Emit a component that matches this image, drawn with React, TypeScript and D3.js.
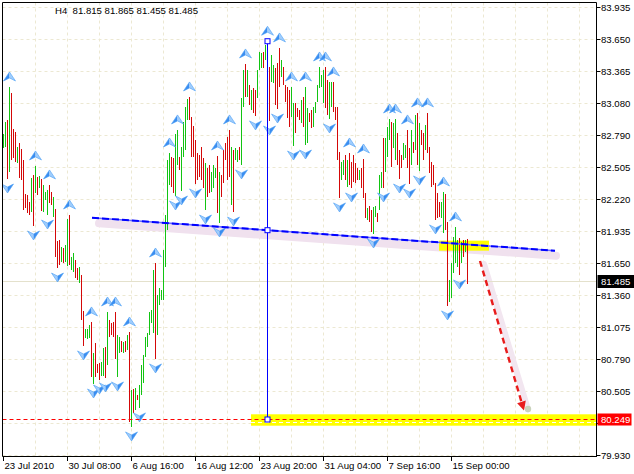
import React from "react";
import * as d3 from "d3";

// USDJPY-style H4 price bars: high / low per bar, colour = bull (G) or bear (R)
const highs = [
  82.801, 82.908, 82.926, 83.221, 83.167, 82.846, 82.819, 82.685, 82.72, 82.667,
  82.568, 82.264, 82.255, 82.193, 82.407, 82.434, 82.515, 82.416, 82.425, 82.398,
  82.345, 82.282, 82.3, 82.345, 82.282, 82.238, 82.13, 81.844, 81.853, 81.79,
  81.782, 81.808, 82.041, 82.076, 81.701, 81.737, 81.674, 81.602, 81.611, 81.54,
  81.218, 81.057, 81.057, 81.093, 81.12, 80.843, 80.932, 80.744, 80.753, 80.762,
  80.887, 80.896, 81.209, 81.138, 81.111, 81.12, 81.209, 81.003, 80.985, 80.95,
  80.941, 80.95, 81.003, 81.03, 80.512, 80.521, 80.53, 80.467, 80.556, 80.735,
  80.825, 80.985, 81.021, 81.209, 81.227, 81.585, 81.647, 81.361, 81.424, 81.406,
  81.764, 82.076, 82.568, 82.631, 82.595, 82.586, 82.801, 82.837, 82.595, 82.685,
  82.908, 83.042, 83.114, 83.132, 82.953, 82.872, 82.747, 82.631, 82.613, 82.685,
  82.586, 82.541, 82.497, 82.524, 82.461, 82.524, 82.497, 82.604, 82.461, 82.434,
  82.658, 82.72, 82.774, 82.837, 82.685, 82.658, 82.676, 82.658, 82.685, 83.123,
  83.373, 83.427, 83.373, 83.239, 83.194, 83.212, 83.194, 83.373, 83.534, 83.525,
  83.534, 83.597, 83.63, 83.4, 83.507, 83.418, 83.391, 83.436, 83.57, 83.462,
  83.4, 83.239, 83.221, 83.194, 83.221, 83.078, 83.078, 83.033, 83.015, 83.105,
  83.132, 83.221, 83.033, 82.989, 83.015, 83.042, 83.087, 83.239, 83.4, 83.328,
  83.373, 83.4, 83.284, 83.266, 83.266, 83.266, 83.042, 83.042, 82.64, 82.55,
  82.568, 82.613, 82.568, 82.631, 82.55, 82.613, 82.541, 82.497, 82.479, 82.497,
  82.577, 82.273, 82.139, 82.157, 82.121, 82.148, 82.157, 82.094, 82.434, 82.461,
  82.765, 82.765, 82.863, 82.935, 82.908, 82.899, 82.935, 82.81, 82.658, 82.613,
  82.72, 82.702, 82.837, 82.676, 82.837, 82.729, 82.971, 82.989, 82.899, 82.837,
  82.81, 82.881, 82.989, 82.685, 82.55, 82.524, 82.363, 82.273, 82.193, 82.193,
  82.282, 82.264, 82.014, 81.495, 81.647, 81.88, 81.969, 81.853, 81.871, 81.835,
  81.853, 81.853, 81.865,
];

const lows = [
  82.676, 82.685, 82.398, 82.461, 82.568, 82.586, 82.55, 82.541, 82.407, 82.389,
  82.121, 82.139, 82.094, 82.076, 82.103, 81.978, 82.273, 82.255, 82.318, 82.112,
  82.103, 82.211, 82.076, 82.184, 82.166, 82.059, 81.701, 81.602, 81.629, 81.656,
  81.647, 81.656, 81.62, 81.629, 81.585, 81.567, 81.513, 81.495, 81.468, 81.138,
  80.905, 80.977, 80.968, 80.977, 80.628, 80.565, 80.628, 80.664, 80.601, 80.637,
  80.637, 80.619, 80.735, 80.985, 81.003, 80.985, 80.789, 80.628, 80.843, 80.852,
  80.843, 80.852, 80.869, 80.225, 80.181, 80.306, 80.333, 80.422, 80.351, 80.467,
  80.574, 80.807, 80.896, 81.003, 81.111, 81.021, 80.789, 81.003, 81.272, 81.316,
  81.316, 81.611, 81.942, 82.345, 82.327, 82.273, 82.246, 82.524, 82.479, 82.291,
  82.595, 82.658, 82.926, 82.926, 82.595, 82.595, 82.354, 82.389, 82.416, 82.389,
  82.318, 82.121, 82.238, 82.273, 82.282, 82.318, 82.407, 82.094, 82.005, 82.238,
  82.363, 82.568, 82.389, 82.416, 82.166, 82.103, 82.568, 82.55, 82.568, 82.524,
  83.042, 83.132, 83.132, 83.06, 83.015, 82.989, 82.962, 83.123, 83.373, 83.391,
  83.391, 83.462, 83.015, 82.917, 83.266, 83.257, 83.06, 83.024, 83.221, 83.31,
  83.239, 83.087, 82.944, 82.863, 82.953, 82.693, 82.81, 82.953, 82.926, 82.899,
  82.863, 82.702, 82.72, 82.908, 82.854, 82.863, 82.989, 83.087, 83.212, 83.221,
  83.078, 83.033, 82.971, 82.935, 83.042, 82.997, 82.926, 82.568, 82.229, 82.389,
  82.434, 82.389, 82.327, 82.345, 82.318, 82.372, 82.363, 82.389, 82.389, 82.318,
  82.229, 82.05, 82.032, 82.014, 81.924, 81.906, 82.059, 82.014, 82.121, 82.318,
  82.318, 82.461, 82.595, 82.747, 82.506, 82.676, 82.568, 82.524, 82.398, 82.497,
  82.568, 82.586, 82.497, 82.354, 82.524, 82.631, 82.658, 82.524, 82.47, 82.702,
  82.568, 82.658, 82.631, 82.452, 82.327, 82.345, 82.032, 82.05, 82.059, 82.05,
  81.915, 81.942, 81.263, 81.298, 81.334, 81.558, 81.647, 81.611, 81.54, 81.647,
  81.701, 81.746, 81.455,
];

const barColors =
  "GGRGRRRGRR" + "RRRRGRGRGR" + "GGGRRGRRRG" + "RGGRGGRRGR" + "RGGGRGRRRG" +
  "GRGRRRRGGR" + "GRGRGRGRGG" + "GGGGGGRGGG" + "GGGGRRGGRG" + "GGGRRRRRRR" +
  "RGRRGGGRGR" + "RRRRGRGGRG" + "GRGRGRRGGG" + "RGRRGGRRRG" + "RRRRGGRRRG" +
  "RGGRRGGGGG" + "GRRGGRRRRG" + "GRGRRRRRGR" + "RRGRRGGRGG" + "RGGGRGGRRR" +
  "GGRRGRGRGR" + "RGRRRRRRRG" + "GRRGGGGGRG" + "RGR";

const lastOpen = 81.815;
const lastClose = 81.485;
const timeframe = "H4";

// Bill Williams fractals (bar indices)
const upFractals = [3, 16, 23, 33, 44, 52, 56, 63, 76, 83, 87, 93, 107, 113, 121, 132, 138, 144, 151, 158, 161, 165, 173, 180, 193, 196, 202, 207, 212, 220, 226];
const downFractals = [2, 15, 22, 27, 40, 45, 48, 51, 57, 64, 68, 76, 86, 89, 96, 101, 108, 115, 119, 126, 133, 137, 145, 151, 163, 168, 174, 185, 190, 198, 203, 208, 216, 222, 228];

// axes
const priceTicks = [83.935, 83.65, 83.365, 83.08, 82.79, 82.505, 82.22, 81.935, 81.65, 81.36, 81.075, 80.79, 80.505, 80.22, 79.93];
const timeTickBars = [0, 32, 64, 96, 128, 160, 192, 224];
const timeLabels = ["23 Jul 2010", "30 Jul 08:00", "6 Aug 16:00", "16 Aug 12:00", "23 Aug 20:00", "31 Aug 04:00", "7 Sep 16:00", "15 Sep 00:00"];

// drawn objects
const neckline = [{ bar: 44.5, price: 82.052 }, { bar: 276, price: 81.757 }];
const headBar = 132;
const targetPrice = 80.249;
const forecast = [{ bar: 238.5, price: 81.665 }, { bar: 260.5, price: 80.328 }];
const breakZone = { bar0: 218, bar1: 243, top: 81.847, bottom: 81.757 };
const targetZone = { bar0: 124, top: 80.294, bottom: 80.192 };

const W = 634;
const H = 474;
const L = 2.5;
const R = 596.5;
const T = 2.5;
const B = 456.5;
const FONT = "'Liberation Sans', Arial, sans-serif";

const fmt = d3.format(".3f");

function UpArrow({ x, y }: { x: number; y: number }) {
  return (
    <g transform={`translate(${x},${y})`}>
      <path d="M0,-5 L-6,4 L0,1 Z" fill="#3a8df0" />
      <path d="M0,-5 L6,4 L0,1 Z" fill="#9fcdfd" />
      <path d="M0,-5 L6,4 L0,1 L-6,4 Z" fill="none" stroke="#4c9ff5" strokeWidth={0.6} />
    </g>
  );
}

function DownArrow({ x, y }: { x: number; y: number }) {
  return (
    <g transform={`translate(${x},${y})`}>
      <path d="M0,5 L-6,-4 L0,-1 Z" fill="#9fcdfd" />
      <path d="M0,5 L6,-4 L0,-1 Z" fill="#3a8df0" />
      <path d="M0,5 L6,-4 L0,-1 L-6,-4 Z" fill="none" stroke="#4c9ff5" strokeWidth={0.6} />
    </g>
  );
}

export default function App() {
  const x = d3.scaleLinear().domain([0, 296.75]).range([3, R]);
  const y = d3.scaleLinear().domain([79.93, 83.935]).range([455, 7.13]);

  const gridBars = d3.range(16, 296, 16);
  const green = "#12c412";
  const red = "#d40808";

  const n0 = { x: x(neckline[0].bar), y: y(neckline[0].price) };
  const n1 = { x: x(neckline[1].bar), y: y(neckline[1].price) };
  const nSlope = (n1.y - n0.y) / (n1.x - n0.x);
  const hx = x(headBar) + 0.5;
  const headMid = n0.y + (hx - n0.x) * nSlope;

  const f0 = { x: x(forecast[0].bar), y: y(forecast[0].price) };
  const f1 = { x: x(forecast[1].bar), y: y(forecast[1].price) };
  const fAng = Math.atan2(f1.y - f0.y, f1.x - f0.x);
  const head = 9;
  const headW = 4.5;
  const bx = f1.x - head * Math.cos(fAng);
  const by = f1.y - head * Math.sin(fAng);
  const arrowHead = `M${f1.x},${f1.y} L${bx - headW * Math.sin(fAng)},${by + headW * Math.cos(fAng)} L${bx + headW * Math.sin(fAng)},${by - headW * Math.cos(fAng)} Z`;

  const header = `${timeframe}  ${fmt(lastOpen)} ${fmt(highs[highs.length - 1])} ${fmt(lows[lows.length - 1])} ${fmt(lastClose)}`;

  // the target label covers the axis tick that sits right under it
  const tyTarget = y(targetPrice);
  const axisLabels = priceTicks.filter((p) => Math.abs(y(p) - tyTarget) > 8);

  return (
    <svg width={W} height={H} style={{ position: "absolute", left: 0, top: 0, background: "#fff" }} fontFamily={FONT}>
      <defs>
        <clipPath id="plot">
          <rect x={L} y={T} width={R - L} height={B - T} />
        </clipPath>
      </defs>
      <rect width={W} height={H} fill="#fff" />

      <g clipPath="url(#plot)">
        {/* grid */}
        {priceTicks.map((p) => (
          <line key={"hg" + p} x1={L} x2={R} y1={Math.round(y(p)) + 0.5} y2={Math.round(y(p)) + 0.5} stroke="#ece8d2" strokeDasharray="3,3" />
        ))}
        {gridBars.map((b) => (
          <line key={"vg" + b} x1={x(b) + 0.5} x2={x(b) + 0.5} y1={T} y2={B} stroke="#ece8d2" strokeDasharray="3,3" />
        ))}

        {/* highlight shadows */}
        <line x1={n0.x + 7} y1={n0.y + 5 + 7 * nSlope} x2={n1.x + 1} y2={n1.y + 5 + nSlope} stroke="#f0e1ee" strokeWidth={8} strokeLinecap="round" />
        <line x1={f0.x + 4} y1={f0.y + 3} x2={f1.x + 4} y2={f1.y - 1} stroke="#f2e6f0" strokeWidth={6} strokeLinecap="round" />
        <circle cx={f1.x + 4} cy={f1.y - 1.5} r={3.2} fill="#c9d3bb" />

        {/* zones */}
        <rect x={x(breakZone.bar0)} y={y(breakZone.top)} width={x(breakZone.bar1) - x(breakZone.bar0)} height={y(breakZone.bottom) - y(breakZone.top)} fill="#ffff00" />
        <rect x={x(targetZone.bar0)} y={y(targetZone.top)} width={R - x(targetZone.bar0)} height={y(targetZone.bottom) - y(targetZone.top)} fill="#ffff00" />

        {/* bid line */}
        <line x1={L} x2={R} y1={Math.round(y(lastClose)) + 0.5} y2={Math.round(y(lastClose)) + 0.5} stroke="#e4e1cc" />

        {/* bars */}
        {highs.map((h, i) => {
          const top = Math.round(y(h));
          const bot = Math.round(y(lows[i]));
          return <rect key={"b" + i} x={x(i)} y={top} width={1} height={Math.max(1, bot - top)} fill={barColors[i] === "G" ? green : red} />;
        })}

        {/* fractals */}
        {upFractals.map((i) => (
          <UpArrow key={"u" + i} x={x(i) + 0.5} y={y(highs[i]) - 10} />
        ))}
        {downFractals.map((i) => (
          <DownArrow key={"d" + i} x={x(i) + 0.5} y={y(lows[i]) + 9} />
        ))}

        {/* target level */}
        <line x1={L} x2={R} y1={Math.round(tyTarget) + 0.5} y2={Math.round(tyTarget) + 0.5} stroke="#ff0000" strokeDasharray="4,3" />
        <line x1={x(targetZone.bar0)} x2={R} y1={Math.round(tyTarget) + 3.5} y2={Math.round(tyTarget) + 3.5} stroke="#ffffff" strokeDasharray="4,3" />

        {/* neckline */}
        <line x1={n0.x} y1={n0.y} x2={n1.x} y2={n1.y} stroke="#6a6aff" strokeWidth={1.6} />
        <line x1={n0.x} y1={n0.y} x2={n1.x} y2={n1.y} stroke="#0000ff" strokeWidth={2} strokeDasharray="7,3" />

        {/* head-to-target projection */}
        <line x1={hx} x2={hx} y1={y(highs[headBar])} y2={tyTarget} stroke="#0000ff" strokeWidth={1} />
        {[y(highs[headBar]), headMid, Math.round(tyTarget) + 0.5].map((cy, k) => (
          <rect key={"sq" + k} x={hx - 2.5} y={cy - 2.5} width={5} height={5} fill="#fff" stroke="#0000ff" strokeWidth={1} />
        ))}

        {/* forecast arrow */}
        <line x1={f0.x} y1={f0.y} x2={bx} y2={by} stroke="#e81c1c" strokeWidth={2.4} strokeDasharray="6,4" />
        <path d={arrowHead} fill="#e81c1c" />
      </g>

      {/* frame */}
      <line x1={L} x2={L} y1={T} y2={B} stroke="#000" />
      <line x1={L} x2={R} y1={T} y2={T} stroke="#000" />
      <line x1={R} x2={R} y1={T} y2={B + 0.5} stroke="#000" />
      <line x1={L} x2={R} y1={B} y2={B} stroke="#000" />

      {/* price axis */}
      {priceTicks.map((p) => {
        const ty = Math.round(y(p)) + 0.5;
        return <line key={"ptk" + p} x1={R} x2={R + 4} y1={ty} y2={ty} stroke="#000" />;
      })}
      {axisLabels.map((p) => {
        const ty = Math.round(y(p)) + 0.5;
        return (
          <text key={"pt" + p} x={601} y={ty + 3.6} fontSize={9.6} fill="#000">
            {fmt(p)}
          </text>
        );
      })}
      <rect x={597.5} y={Math.round(y(lastClose)) - 6} width={36.5} height={13} fill="#000" />
      <text x={601} y={Math.round(y(lastClose)) + 4} fontSize={9.6} fill="#fff">
        {fmt(lastClose)}
      </text>
      <rect x={597.5} y={Math.round(tyTarget) - 5.5} width={34} height={12} fill="#ff0000" />
      <text x={601} y={Math.round(tyTarget) + 4} fontSize={9.6} fill="#fff">
        {fmt(targetPrice)}
      </text>

      {/* time axis */}
      {timeTickBars.map((b, k) => (
        <g key={"tt" + b}>
          <line x1={x(b) + 0.5} x2={x(b) + 0.5} y1={B} y2={B + 4.5} stroke="#000" />
          <text x={x(b) + 1.5} y={469} fontSize={9.6} fill="#000">
            {timeLabels[k]}
          </text>
        </g>
      ))}

      <text x={55} y={14} fontSize={9.6} fill="#000" style={{ whiteSpace: "pre" }}>
        {header}
      </text>
    </svg>
  );
}
